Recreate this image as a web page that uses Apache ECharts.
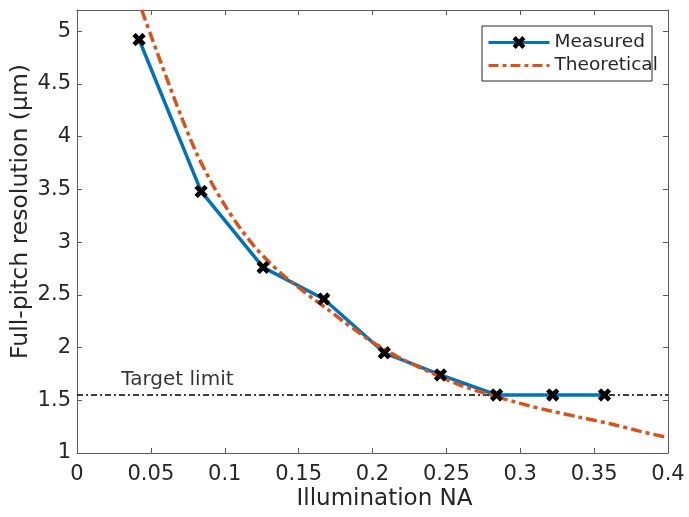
<!DOCTYPE html>
<html>
<head>
<meta charset="utf-8">
<script src="https://cdn.jsdelivr.net/npm/echarts@6/dist/echarts.min.js"></script>
<style>html,body{margin:0;padding:0;background:#fff;}#chart{width:689px;height:517px;}</style>
</head>
<body>
<div id="chart"></div>
<script>
// ---- data ----
const naMeasured  = [0.042, 0.084, 0.126, 0.167, 0.208, 0.246, 0.284, 0.322, 0.357];
const resMeasured = [4.92, 3.48, 2.76, 2.46, 1.95, 1.74, 1.55, 1.55, 1.55];
const naTheory  = [0.0438, 0.05, 0.06, 0.07, 0.08, 0.09, 0.10, 0.11, 0.12, 0.13, 0.14, 0.15, 0.16, 0.17, 0.18, 0.19, 0.20, 0.21, 0.22, 0.24, 0.26, 0.28, 0.30, 0.32, 0.34, 0.36, 0.38, 0.40];
const resTheory = [5.20, 4.96, 4.58, 4.21, 3.87, 3.59, 3.35, 3.14, 2.96, 2.81, 2.68, 2.57, 2.46, 2.36, 2.25, 2.15, 2.05, 1.97, 1.89, 1.76, 1.64, 1.55, 1.47, 1.40, 1.34, 1.28, 1.21, 1.145];
const targetLimit = 1.55;
const targetRange = [0, 0.4];
const targetLabel = 'Target limit';
const targetLabelPos = [0.03, 1.69];
const xRange = [0, 0.4], xStep = 0.05;
const yRange = [1, 5.2], yStep = 0.5;
const seriesNames = ['Measured', 'Theoretical'];
const xTitle = 'Illumination NA';
const yTitle = 'Full-pitch resolution (µm)';

const FONT = 'DejaVu Sans';
const AX = '#5a5a5a';
const TXT = '#262626';
const xMark = 'path://M2.4,0 L5,2.6 L7.6,0 L10,2.4 L7.4,5 L10,7.6 L7.6,10 L5,7.4 L2.4,10 L0,7.6 L2.6,5 L0,2.4 Z';

const chart = echarts.init(document.getElementById('chart'));
const baseAxis = {
  axisLine: {show: true, onZero: false, lineStyle: {color: AX, width: 1}},
  axisTick: {show: true, inside: true, length: 5, lineStyle: {color: AX}},
  splitLine: {show: false},
  nameMoveOverlap: false
};
chart.setOption({
  animation: false,
  backgroundColor: '#fff',
  grid: {left: 77, right: 21, top: 10, bottom: 64, containLabel: false, outerBoundsMode: 'none'},
  xAxis: [
    Object.assign({}, baseAxis, {
      type: 'value', min: xRange[0], max: xRange[1], interval: xStep, position: 'bottom',
      name: xTitle, nameLocation: 'middle', nameGap: 35,
      nameTextStyle: {fontFamily: FONT, fontSize: 23, color: TXT, padding: [0, 0, 0, 24]},
      axisLabel: {fontFamily: FONT, fontSize: 21, color: TXT, margin: 11,
        formatter: v => String(+v.toFixed(2))}
    }),
    Object.assign({}, baseAxis, {
      type: 'value', min: xRange[0], max: xRange[1], interval: xStep, position: 'top',
      axisLabel: {show: false}
    })
  ],
  yAxis: [
    Object.assign({}, baseAxis, {
      type: 'value', min: yRange[0], max: yRange[1], interval: yStep, position: 'left',
      name: yTitle, nameLocation: 'middle', nameGap: 44, nameRotate: 90,
      nameTextStyle: {fontFamily: FONT, fontSize: 23.5, color: TXT, padding: [0, 0, 0, 40]},
      axisLabel: {fontFamily: FONT, fontSize: 21, color: TXT, margin: 6, showMaxLabel: false,
        formatter: v => (v > 5.05 ? '' : String(+v.toFixed(1)))}
    }),
    Object.assign({}, baseAxis, {
      type: 'value', min: yRange[0], max: yRange[1], interval: yStep, position: 'right',
      axisLabel: {show: false}
    })
  ],
  legend: {
    data: [
      {name: seriesNames[0], lineStyle: {width: 3, color: '#0072BD'}},
      {name: seriesNames[1], lineStyle: {width: 3, color: '#D95319', type: [10, 4, 4, 4]}, itemStyle: {opacity: 0}}
    ],
    orient: 'vertical', left: 483, top: 28,
    itemWidth: 61, itemHeight: 16, itemGap: 0, padding: [3, 4],
    textStyle: {fontFamily: FONT, fontSize: 18.5, color: TXT, lineHeight: 23},
    selectedMode: false
  },
  graphic: [{
    type: 'rect', shape: {x: 482, y: 26, width: 170, height: 55},
    style: {fill: '#fff', stroke: TXT, lineWidth: 1}, z: 0
  }],
  series: [
    {
      name: 'Target', type: 'line', xAxisIndex: 0, yAxisIndex: 0, z: 1,
      data: targetRange.map(x => [x, targetLimit]), symbol: 'none',
      lineStyle: {color: '#000', width: 1.5, type: [6, 3, 2, 3]}, silent: true
    },
    {
      name: 'TargetLabel', type: 'scatter', z: 6, symbolSize: 0,
      data: [targetLabelPos],
      label: {show: true, position: [0, 0], formatter: targetLabel, align: 'left', verticalAlign: 'middle',
        fontFamily: FONT, fontSize: 20, color: '#000'}, silent: true
    },
    {
      name: seriesNames[0], type: 'line', z: 2,
      data: naMeasured.map((x, i) => [x, resMeasured[i]]),
      symbol: xMark, symbolSize: 13,
      itemStyle: {color: '#000'},
      lineStyle: {color: '#0072BD', width: 3.5}
    },
    {
      name: seriesNames[1], type: 'line', z: 3,
      data: naTheory.map((x, i) => [x, resTheory[i]]),
      symbol: 'none', smooth: 0.3,
      itemStyle: {color: '#D95319'},
      lineStyle: {color: '#D95319', width: 3.5, type: [11, 4, 4, 4]}
    },
    {
      name: 'MeasuredMarkers', type: 'scatter', z: 5,
      data: naMeasured.map((x, i) => [x, resMeasured[i]]),
      symbol: xMark, symbolSize: 13, itemStyle: {color: '#000'}, silent: true
    }
  ]
});
</script>
</body>
</html>
